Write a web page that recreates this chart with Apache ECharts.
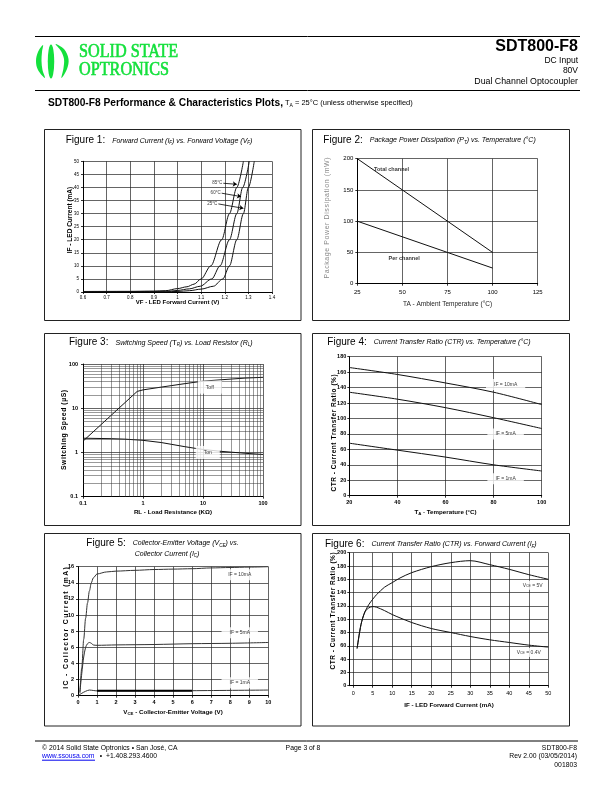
<!DOCTYPE html>
<html>
<head>
<meta charset="utf-8">
<title>SDT800-F8 Performance &amp; Characteristics Plots</title>
<script src="https://cdn.jsdelivr.net/npm/echarts@6/dist/echarts.min.js"></script>
<style>
  html, body { margin: 0; padding: 0; background: #fff; }
  #page { width: 612px; height: 792px; }
</style>
</head>
<body>
<div id="page"></div>
<script>
// Figure 1 - forward current vs forward voltage, [VF, IF]
const fig1Curve85 = [[0.6, 0.2], [0.8, 0.25], [0.9, 0.35], [0.95, 0.5], [1.0, 1.3], [1.04, 2.0], [1.07, 3.0], [1.1, 5], [1.141, 10], [1.187, 20], [1.22, 30], [1.251, 40], [1.279, 50]]
const fig1Curve60 = [[0.6, 0.1], [0.9, 0.2], [0.97, 0.35], [1.0, 0.6], [1.05, 1.2], [1.096, 2.2], [1.145, 5], [1.18, 10], [1.22, 20], [1.251, 30], [1.276, 40], [1.304, 50]]
const fig1Curve25 = [[0.6, 0.05], [0.95, 0.1], [1.0, 0.2], [1.05, 0.5], [1.1, 1.1], [1.152, 2.2], [1.192, 5], [1.22, 10], [1.251, 20], [1.279, 30], [1.3, 40], [1.325, 50]]
const fig1ArrowText = ['85°C', '60°C', '25°C']
const fig1ArrowFrom = [[1.194, 41.6], [1.187, 37.8], [1.173, 33.7]]
const fig1ArrowTo = [[1.251, 41.2], [1.269, 36.5], [1.279, 32]]

// Figure 2 - package power dissipation vs temperature
const fig2Temp = [25, 50, 75, 100]
const fig2Total = [200, 150, 100, 50]
const fig2Per = [100, 75, 50, 25]
const fig2NoteText = ['Total channel', 'Per channel']
const fig2NoteAt = [[44, 182], [51, 41]]

// Figure 3 - switching speed vs load resistor (log / log)
const fig3Toff = [[0.1, 1.8], [0.8, 24], [1, 26], [2, 30], [5, 36], [10, 41], [20, 44], [50, 48], [100, 50]]
const fig3Ton = [[0.1, 2.1], [0.3, 2.05], [0.5, 2.0], [1, 1.88], [2, 1.68], [5, 1.35], [8, 1.22], [10, 1.17], [20, 1.06], [50, 0.96], [100, 0.9]]
const fig3Minor = [0.2, 0.3, 0.4, 0.5, 0.6, 0.7, 0.8, 0.9, 2, 3, 4, 5, 6, 7, 8, 9, 20, 30, 40, 50, 60, 70, 80, 90]
const fig3NoteText = ['Toff', 'Ton']
const fig3NoteAt = [[13, 30], [12, 1.0]]

// Figure 4 - CTR vs temperature
const fig4Temp = [20, 40, 60, 80, 100]
const fig4If10 = [166, 157, 146, 134, 118]
const fig4If5 = [134, 125, 114, 101, 87]
const fig4If1 = [68, 59, 50, 40, 32]
const fig4NoteText = ['IF = 10mA', 'IF = 5mA', 'IF = 1mA']
const fig4NoteAt = [[85, 144], [85, 80], [85, 22]]

// Figure 5 - collector current vs collector-emitter voltage
const fig5If10 = [[0.1, 0.3], [0.2, 3.5], [0.3, 7], [0.4, 9.6], [0.5, 11.5], [0.6, 13], [0.7, 14], [0.8, 14.6], [1, 15.1], [1.5, 15.35], [2, 15.45], [3, 15.55], [4, 15.65], [5, 15.7], [6, 15.75], [7, 15.85], [8, 15.9], [9, 15.95], [10, 16]]
const fig5If5 = [[0.1, 0.5], [0.2, 2.8], [0.3, 4.8], [0.4, 6], [0.5, 6.45], [0.6, 6.6], [0.7, 6.5], [0.8, 6.3], [1, 6.25], [2, 6.3], [4, 6.35], [6, 6.45], [8, 6.5], [10, 6.6]]
const fig5If1 = [[0, 0], [0.2, 0.3], [0.4, 0.55], [0.6, 0.7], [0.8, 0.65], [1, 0.6], [5, 0.6], [6, 0.62], [10, 0.7]]
const fig5NoteText = ['IF = 10mA', 'IF = 5mA', 'IF = 1mA']
const fig5NoteAt = [[8.5, 15], [8.5, 7.8], [8.5, 1.6]]

// Figure 6 - CTR vs forward current
const fig6Ticks = [0, 5, 10, 15, 20, 25, 30, 35, 40, 45, 50]
const fig6Vce5 = [[1, 56], [2, 92], [3, 111], [4, 122], [5, 130], [6, 137], [8, 148], [10, 155], [12, 162], [15, 170], [20, 179], [25, 185], [30, 188], [35, 182], [40, 175], [45, 167], [50, 160]]
const fig6Vce04 = [[1, 56], [2, 92], [3, 111], [4, 117], [5, 119], [6, 118], [8, 113], [10, 107], [12, 102], [15, 95], [20, 86], [25, 80], [30, 74], [35, 69], [40, 65], [45, 61], [50, 58]]
const fig6NoteText = ['VCE = 5V', 'VCE = 0.4V']
const fig6NoteAt = [[46, 151], [45, 50]]

const FONT = '"Liberation Sans", Arial, sans-serif'
const NARROW = '"Liberation Sans Narrow", "Liberation Sans", Arial, sans-serif'
const GREEN = '#14e03c'

const zip = (xs, ys) => xs.map((x, i) => [x, ys[i]])
const spaced = (s, sp) => s.split('').join(sp)

const axis = (gridIndex, extra, label) => Object.assign({
  gridIndex,
  type: 'value',
  axisLine: { show: true, onZero: false, lineStyle: { color: '#000', width: 1 } },
  axisTick: { show: true, length: 2, lineStyle: { color: '#000', width: 0.8 } },
  splitLine: { show: true, lineStyle: { color: '#222', width: 0.7 } },
  axisLabel: Object.assign({ color: '#000', fontFamily: NARROW, fontSize: 5.5, margin: 3, showMinLabel: true, showMaxLabel: true }, label),
}, extra)

const curve = (g, data, extra) => Object.assign({
  type: 'line',
  xAxisIndex: g,
  yAxisIndex: g,
  data,
  symbol: 'none',
  silent: true,
  z: 3,
  lineStyle: { color: '#111', width: 1 },
}, extra)

const notes = (g, at, texts, label) => ({
  type: 'scatter',
  xAxisIndex: g,
  yAxisIndex: g,
  symbolSize: 0,
  silent: true,
  z: 6,
  data: at.map((p, i) => [p[0], p[1], texts[i]]),
  label: Object.assign({
    show: true,
    position: 'inside',
    color: '#000',
    fontFamily: NARROW,
    fontSize: 5,
    backgroundColor: '#fff',
    padding: [2, 4],
    formatter: (p) => p.data[2],
  }, label),
})

const txt = (x, y, text, style, rotation) => ({
  type: 'text',
  x,
  y,
  rotation: rotation || 0,
  silent: true,
  style: Object.assign({ text, fill: '#000', fontFamily: FONT, fontSize: 7, align: 'left', verticalAlign: 'middle' }, style),
})

const box = (x, y, w, h) => ({
  type: 'rect',
  silent: true,
  shape: { x, y, width: w, height: h },
  style: { fill: 'none', stroke: '#222', lineWidth: 1 },
})

const hline = (x1, x2, y, color) => ({
  type: 'line',
  silent: true,
  shape: { x1, y1: y, x2, y2: y },
  style: { stroke: color || '#000', lineWidth: 1 },
})

const blob = (points) => ({
  type: 'polygon',
  silent: true,
  shape: { points, smooth: 0.35 },
  style: { fill: GREEN },
})

const titleRich = {
  f: { fontSize: 10, fontFamily: FONT, padding: [0, 7, 0, 0] },
  i: { fontSize: 7, fontStyle: 'italic', fontFamily: FONT },
  n: { fontSize: 8, fontFamily: FONT },
  s: { fontSize: 4.5, fontStyle: 'italic', fontFamily: FONT, verticalAlign: 'bottom' },
}
const subRich = (size, bold) => ({
  n: { fontSize: size, fontWeight: bold ? 'bold' : 'normal', fontFamily: FONT },
  s: { fontSize: size * 0.7, fontWeight: bold ? 'bold' : 'normal', fontFamily: FONT, verticalAlign: 'bottom' },
})
const rot = Math.PI / 2

const chart = echarts.init(document.getElementById('page'))

chart.setOption({
  animation: false,
  backgroundColor: '#fff',
  grid: [
    { left: 83, top: 161.3, width: 189, height: 130.7 },
    { left: 357.3, top: 158.7, width: 180.4, height: 125 },
    { left: 83, top: 364, width: 180, height: 132.7 },
    { left: 349.3, top: 356.7, width: 192.4, height: 139 },
    { left: 78, top: 566.7, width: 190.3, height: 129 },
    { left: 349.3, top: 552.7, width: 199, height: 133 },
  ],
  xAxis: [
    axis(0, { min: 0.6, max: 1.4, interval: 0.1 }, { fontSize: 4.5, margin: 3 }),
    axis(1, { min: 25, max: 125, interval: 25 }, { fontSize: 6, margin: 6 }),
    axis(2, { type: 'log', logBase: 10, min: 0.1, max: 100 }, { fontSize: 5.5, fontWeight: 'bold', margin: 4 }),
    axis(3, { min: 20, max: 100, interval: 20 }, { fontSize: 5.5, fontWeight: 'bold', margin: 4 }),
    axis(4, { min: 0, max: 10, interval: 1 }, { fontSize: 5.5, fontWeight: 'bold', margin: 4 }),
    axis(5, { min: -1, max: 50, axisTick: { show: true, length: 2, customValues: fig6Ticks, lineStyle: { color: '#000', width: 0.8 } } },
      { fontSize: 5.5, margin: 5, customValues: fig6Ticks }),
  ],
  yAxis: [
    axis(0, { min: 0, max: 50, interval: 5 }, { fontSize: 4.5, margin: 4 }),
    axis(1, { min: 0, max: 200, interval: 50 }, { fontSize: 6, margin: 4 }),
    axis(2, { type: 'log', logBase: 10, min: 0.1, max: 100 }, { fontSize: 5.5, fontWeight: 'bold', margin: 5 }),
    axis(3, { min: 0, max: 180, interval: 20 }, { fontSize: 5.5, fontWeight: 'bold', margin: 3 }),
    axis(4, { min: 0, max: 16, interval: 2 }, { fontSize: 5.5, fontWeight: 'bold', margin: 4 }),
    axis(5, { min: 0, max: 200, interval: 20 }, { fontSize: 5.5, fontWeight: 'bold', margin: 3 }),
  ],
  series: [
    // figure 1
    curve(0, fig1Curve85, {
      smooth: 0.3, smoothMonotone: 'x',
      markLine: {
        silent: true,
        symbol: ['none', 'arrow'],
        symbolSize: 4,
        label: { show: false },
        lineStyle: { color: '#000', width: 0.8, type: 'solid' },
        data: fig1ArrowFrom.map((p, i) => [{ coord: p }, { coord: fig1ArrowTo[i] }]),
      },
    }),
    curve(0, fig1Curve60, { smooth: 0.3, smoothMonotone: 'x' }),
    curve(0, fig1Curve25, { smooth: 0.3, smoothMonotone: 'x' }),
    notes(0, fig1ArrowFrom, fig1ArrowText, { position: 'left', distance: 1, backgroundColor: 'transparent', padding: 0, fontSize: 4.5 }),
    // figure 2
    curve(1, zip(fig2Temp, fig2Total)),
    curve(1, zip(fig2Temp, fig2Per)),
    notes(1, fig2NoteAt, fig2NoteText, { backgroundColor: 'transparent', padding: 0, fontSize: 5.5, fontWeight: 'bold' }),
    // figure 3
    curve(2, fig3Toff),
    curve(2, fig3Ton, {
      markLine: {
        silent: true,
        symbol: ['none', 'none'],
        label: { show: false },
        lineStyle: { color: '#333', width: 0.5, type: 'solid' },
        data: fig3Minor.map((v) => ({ xAxis: v })).concat(fig3Minor.map((v) => ({ yAxis: v }))),
      },
    }),
    notes(2, fig3NoteAt, fig3NoteText, { padding: [4, 8] }),
    // figure 4
    curve(3, zip(fig4Temp, fig4If10), { smooth: 0.3 }),
    curve(3, zip(fig4Temp, fig4If5), { smooth: 0.3 }),
    curve(3, zip(fig4Temp, fig4If1), { smooth: 0.3 }),
    notes(3, fig4NoteAt, fig4NoteText, { padding: [3, 8] }),
    // figure 5
    curve(4, fig5If10, { smooth: 0.3, smoothMonotone: 'x', lineStyle: { color: '#333', width: 1 } }),
    curve(4, fig5If5, { smooth: 0.3, lineStyle: { color: '#333', width: 1 } }),
    curve(4, fig5If1, { smooth: 0.3, lineStyle: { color: '#333', width: 1 } }),
    curve(4, fig5If1.filter((p) => p[0] >= 1 && p[0] <= 6), { lineStyle: { color: '#000', width: 2 } }),
    notes(4, fig5NoteAt, fig5NoteText, { padding: [3, 8] }),
    // figure 6
    curve(5, fig6Vce5, { smooth: 0.3 }),
    curve(5, fig6Vce04, { smooth: 0.3 }),
    notes(5, fig6NoteAt, fig6NoteText, {
      padding: [2, 3],
      formatter: (p) => p.data[2].replace(/^VCE(.*)$/, '{n|V}{s|CE}{n|$1}'),
      rich: subRich(5, false),
    }),
  ],
  graphic: [
    // header
    hline(35, 580, 36.5),
    blob([[43, 45], [38, 52], [36, 61], [38, 70], [45, 78], [42.5, 70], [41.5, 61], [42, 52]]),
    { type: 'circle', silent: true, x: 51, y: 61.5, scaleX: 0.19, shape: { cx: 0, cy: 0, r: 17 }, style: { fill: GREEN } },
    blob([[55.5, 44], [64, 49], [68.5, 59], [67, 69], [61.5, 78], [63.5, 68], [64, 59], [61, 51]]),
    Object.assign(txt(79, 52.5, 'SOLID STATE', { fill: GREEN, stroke: GREEN, lineWidth: 0.6, fontFamily: '"Liberation Serif", serif', fontSize: 18 }), { scaleX: 0.9 }),
    Object.assign(txt(79, 70, 'OPTRONICS', { fill: GREEN, stroke: GREEN, lineWidth: 0.6, fontFamily: '"Liberation Serif", serif', fontSize: 18 }), { scaleX: 0.9 }),
    txt(578, 47, 'SDT800-F8', { fontSize: 16, fontWeight: 'bold', align: 'right' }),
    txt(578, 60.5, 'DC Input', { fontSize: 8.5, align: 'right' }),
    txt(578, 71, '80V', { fontSize: 8.5, align: 'right' }),
    txt(578, 81.5, 'Dual Channel Optocoupler', { fontSize: 8.8, align: 'right' }),
    hline(35, 580, 90.5),
    txt(48, 103, '{b|SDT800-F8 Performance & Characteristics Plots,} {n|T}{s|A}{n| = 25°C (unless otherwise specified)}', {
      rich: {
        b: { fontSize: 10.2, fontWeight: 'bold', fontFamily: FONT },
        n: { fontSize: 7.5, fontFamily: FONT },
        s: { fontSize: 5, fontFamily: FONT, verticalAlign: 'bottom' },
      },
    }),

    // panel frames
    box(44.5, 129.5, 256.5, 191),
    box(312.5, 129.5, 257, 191),
    box(44.5, 333.5, 256.5, 192),
    box(312.5, 333.5, 257, 192),
    box(44.5, 533.5, 256.5, 192.5),
    box(312.5, 533.5, 257, 192.5),

    // figure titles
    txt(65.7, 140.7, '{f|Figure 1:}{i|Forward Current (I}{s|F}{i|) vs. Forward Voltage (V}{s|F}{i|)}', { rich: titleRich }),
    txt(323.3, 140, '{f|Figure 2:}{i|Package Power Dissipation (P}{s|T}{i|) vs. Temperature (°C)}', { rich: titleRich }),
    txt(69, 342.7, '{f|Figure 3:}{i|Switching Speed (}{n|T}{s|R}{i|) vs. Load Resistor (R}{s|L}{i|)}', { rich: titleRich }),
    txt(327.3, 342, '{f|Figure 4:}{i|Current Transfer Ratio (CTR) vs. Temperature (°C)}', { rich: titleRich }),
    txt(86.3, 543.3, '{f|Figure 5:}{i|Collector-Emitter Voltage (V}{s|CE}{i|) vs.}', { rich: titleRich }),
    txt(134.7, 554.3, '{i|Collector Current (I}{s|C}{i|)}', { rich: titleRich }),
    txt(325, 544, '{f|Figure 6:}{i|Current Transfer Ratio (CTR) vs. Forward Current (I}{s|F}{i|)}', { rich: titleRich }),

    // axis names
    txt(70.5, 220, 'IF - LED Current (mA)', { fontSize: 6.5, fontWeight: 'bold', align: 'center' }, rot),
    txt(177.5, 302.5, 'VF - LED Forward Current (V)', { fontSize: 6, fontWeight: 'bold', align: 'center' }),
    txt(326.7, 218, spaced('Package Power Dissipation (mW)', '\u200a'), { fontSize: 7, fill: '#888', align: 'center' }, rot),
    txt(447.5, 304.7, 'TA - Ambient Temperature (°C)', { fontSize: 6.5, fill: '#222', align: 'center' }),
    txt(63.7, 430, spaced('Switching Speed (µS)', '\u200a'), { fontSize: 6.8, fontWeight: 'bold', align: 'center' }, rot),
    txt(173, 512.7, 'RL - Load Resistance (KΩ)', { fontSize: 6.2, fontWeight: 'bold', align: 'center' }),
    txt(334, 433, spaced('CTR - Current Transfer Ratio (%)', '\u200a'), { fontSize: 6.5, fontWeight: 'bold', align: 'center' }, rot),
    txt(445.5, 512.7, '{n|T}{s|A}{n| - Temperature (°C)}', { align: 'center', rich: subRich(6.2, true) }),
    txt(66, 628, spaced('IC - Collector Current (mA)', '\u2009'), { fontSize: 6.8, fontWeight: 'bold', align: 'center' }, rot),
    txt(173, 712.7, '{n|V}{s|CE}{n| - Collector-Emitter Voltage (V)}', { align: 'center', rich: subRich(6.2, true) }),
    txt(333.5, 611, spaced('CTR - Current Transfer Ratio (%)', '\u200a'), { fontSize: 6.5, fontWeight: 'bold', align: 'center' }, rot),
    txt(449, 705, 'IF - LED Forward Current (mA)', { fontSize: 6.2, fontWeight: 'bold', align: 'center' }),

    // footer
    hline(35, 578, 741),
    txt(42, 748, '© 2014 Solid State Optronics • San José, CA', { fontSize: 6.8 }),
    txt(42, 756.5, 'www.ssousa.com', { fontSize: 6.8, fill: '#0000ee' }),
    hline(42, 95, 760.2, '#0000ee'),
    txt(96, 756.5, '  •  +1.408.293.4600', { fontSize: 6.8 }),
    txt(303, 748, 'Page 3 of 8', { fontSize: 6.8, align: 'center' }),
    txt(577, 748, 'SDT800-F8', { fontSize: 6.8, align: 'right' }),
    txt(577, 756.5, 'Rev 2.00 (03/05/2014)', { fontSize: 6.8, align: 'right' }),
    txt(577, 765, '001803', { fontSize: 6.8, align: 'right' }),
  ],
})
</script>
</body>
</html>
